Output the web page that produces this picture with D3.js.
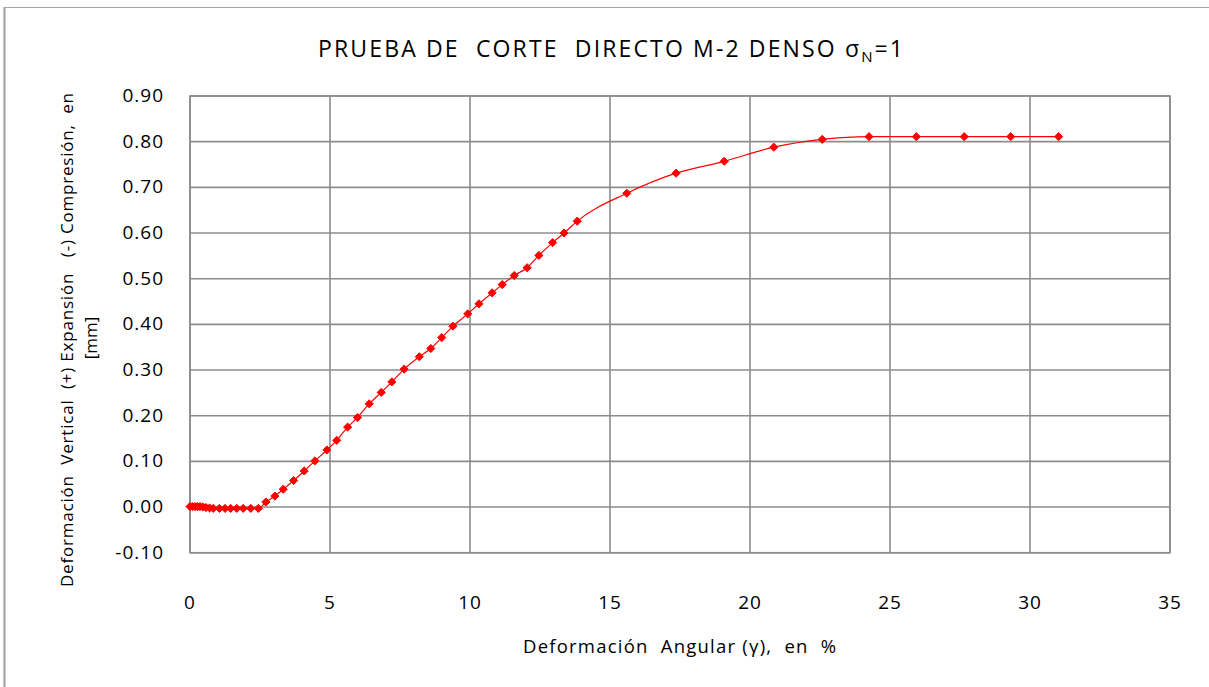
<!DOCTYPE html>
<html><head><meta charset="utf-8">
<script src="https://cdn.jsdelivr.net/npm/d3@7"></script>
<style>body{margin:0;background:#fff}svg{display:block}text{white-space:pre}</style>
</head><body>
<svg id="c" width="1209" height="687"></svg>
<script>
const gammaPct = [0,0.09,0.18,0.27,0.36,0.46,0.57,0.70,0.83,1.05,1.25,1.45,1.67,1.90,2.17,2.44,
  2.71,3.03,3.33,3.70,4.08,4.46,4.89,5.24,5.63,5.98,6.40,6.83,7.21,7.65,8.19,8.60,8.99,
  9.39,9.92,10.32,10.79,11.15,11.58,12.04,12.46,12.95,13.36,13.83,
  15.60,17.36,19.08,20.85,22.58,24.25,25.94,27.65,29.31,31.02];
const vertDef = [0.001,0.001,0.001,0.001,0.001,0.000,-0.001,-0.002,-0.003,-0.003,-0.003,-0.003,-0.003,-0.003,-0.003,-0.003,
  0.011,0.024,0.039,0.058,0.079,0.101,0.125,0.146,0.175,0.196,0.226,0.251,0.274,0.302,0.329,0.347,0.371,
  0.396,0.423,0.445,0.469,0.487,0.507,0.524,0.551,0.579,0.600,0.626,
  0.687,0.731,0.757,0.788,0.805,0.811,0.811,0.811,0.811,0.811];
const xTicks = [0,5,10,15,20,25,30,35];
const yTicks = [-0.10,0.00,0.10,0.20,0.30,0.40,0.50,0.60,0.70,0.80,0.90];
const titleMain = "PRUEBA DE  CORTE  DIRECTO M-2 DENSO ";
const xTitle = "Deformación  Angular (γ),  en  %";
const yTitle1 = "Deformación  Vertical  (+) Expansión   (-) Compresión,  en";
const yTitle2 = "[mm]";

const svg = d3.select("#c");
const L = 190, R = 1170, T = 96, B = 552.7;
const x = d3.scaleLinear().domain([0,35]).range([L,R]);
const y = d3.scaleLinear().domain([-0.10,0.90]).range([B,T]);
const font = "'Open Sans', sans-serif";
const gridCol = "#8c8c8c";

// outer chart border
svg.append("line").attr("x1",4.5).attr("x2",1209).attr("y1",7.5).attr("y2",7.5)
  .attr("stroke","#a6a6a6").attr("stroke-width",1.2);
svg.append("line").attr("x1",4.5).attr("x2",4.5).attr("y1",7).attr("y2",687)
  .attr("stroke","#a6a6a6").attr("stroke-width",2.2);

// grid
const g = svg.append("g");
g.selectAll("line.h").data(yTicks).join("line")
  .attr("x1",L).attr("x2",R).attr("y1",d=>y(d)).attr("y2",d=>y(d))
  .attr("stroke",gridCol).attr("stroke-width",1.6);
g.selectAll("line.v").data(xTicks).join("line")
  .attr("y1",T).attr("y2",B).attr("x1",d=>x(d)).attr("x2",d=>x(d))
  .attr("stroke",gridCol).attr("stroke-width",1.6);
g.append("rect").attr("x",L).attr("y",T).attr("width",R-L).attr("height",B-T)
  .attr("fill","none").attr("stroke",gridCol).attr("stroke-width",1.6);

// tick labels
svg.selectAll("text.yt").data(yTicks).join("text")
  .attr("x",164).attr("y",d=>y(d)+6).attr("text-anchor","end")
  .attr("font-family",font).attr("font-size",19).attr("letter-spacing",1).attr("fill","#000")
  .text(d=>d3.format(".2f")(d).replace("−","-"));
svg.selectAll("text.xt").data(xTicks).join("text")
  .attr("x",d=>x(d)).attr("y",609).attr("text-anchor","middle")
  .attr("font-family",font).attr("font-size",19).attr("letter-spacing",1).attr("fill","#000")
  .text(d=>d);

// title
const t = svg.append("text").attr("x",318).attr("y",57)
  .attr("font-family",font).attr("font-size",23).attr("fill","#000")
  .attr("textLength",585).attr("lengthAdjust","spacing");
t.append("tspan").text(titleMain);
t.append("tspan").text("σ");
t.append("tspan").attr("font-size",15).attr("dy",5).text("N");
t.append("tspan").attr("dy",-5).text("=1");

// axis titles
svg.append("text").attr("x",523).attr("y",653)
  .attr("font-family",font).attr("font-size",18.5).attr("fill","#000")
  .attr("textLength",313).attr("lengthAdjust","spacing").text(xTitle);
svg.append("text").attr("transform","translate(73,587) rotate(-90)")
  .attr("font-family",font).attr("font-size",17).attr("fill","#000")
  .attr("textLength",494).attr("lengthAdjust","spacing").text(yTitle1);
svg.append("text").attr("transform","translate(97,338) rotate(-90)").attr("text-anchor","middle")
  .attr("font-family",font).attr("font-size",17).attr("fill","#000").text(yTitle2);

// series
const pts = gammaPct.map((v,i)=>[v,vertDef[i]]);
const line = d3.line().x(d=>x(d[0])).y(d=>y(d[1])).curve(d3.curveMonotoneX);
svg.append("path").attr("d",line(pts)).attr("fill","none").attr("stroke","#ff0000").attr("stroke-width",1.2);
const sym = d3.symbol().type(d3.symbolDiamond2).size(42);
svg.selectAll("path.m").data(pts).join("path")
  .attr("transform",d=>`translate(${x(d[0])},${y(d[1])})`)
  .attr("d",sym).attr("fill","#ff0000").attr("stroke","#ff0000").attr("stroke-width",1);
</script>
</body></html>
